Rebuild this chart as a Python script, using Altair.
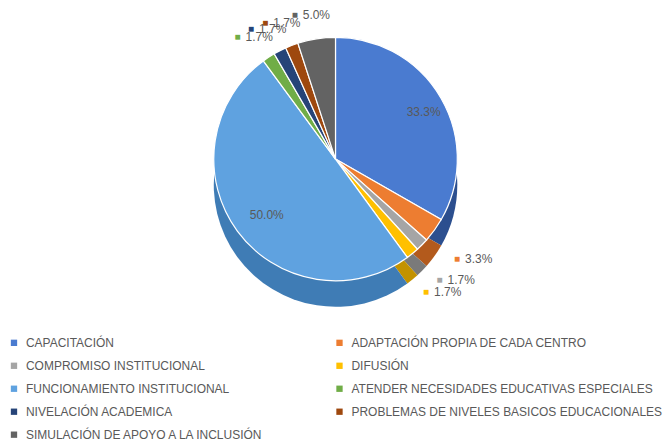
import altair as alt
import pandas as pd

categories = [
    "CAPACITACIÓN",
    "ADAPTACIÓN PROPIA DE CADA CENTRO",
    "COMPROMISO INSTITUCIONAL",
    "DIFUSIÓN",
    "FUNCIONAMIENTO INSTITUCIONAL",
    "ATENDER NECESIDADES EDUCATIVAS ESPECIALES",
    "NIVELACIÓN ACADEMICA",
    "PROBLEMAS DE NIVELES BASICOS EDUCACIONALES",
    "SIMULACIÓN DE APOYO A LA INCLUSIÓN",
]
values = [33.3, 3.3, 1.7, 1.7, 50.0, 1.7, 1.7, 1.7, 5.0]

top_colors = ["#4a7bd0", "#ed7d31", "#a5a5a5", "#ffc000", "#5fa2e0",
              "#70ad47", "#264478", "#9e480e", "#636363"]
side_colors = ["#2c4f8f", "#b35a1c", "#7a7a7a", "#c39200", "#3f7cb5",
               "#4e8130", "#15284a", "#6b2f08", "#3e3e3e"]

# legend fills column by column; reorder so rows read like the reference
legend_order = [categories[i] for i in [0, 2, 4, 6, 8, 1, 3, 5, 7]]

df = pd.DataFrame({"cat": categories, "value": values, "idx": list(range(len(values)))})

R = 122
DEPTH = 26
base = alt.Chart(df)

side = base.mark_arc(outerRadius=R, yOffset=DEPTH).encode(
    theta=alt.Theta("value:Q", stack=True),
    order=alt.Order("idx:Q"),
    color=alt.Color("cat:N", scale=alt.Scale(domain=categories, range=side_colors), legend=None),
)

top = base.mark_arc(outerRadius=R, stroke="white", strokeWidth=1.2).encode(
    theta=alt.Theta("value:Q", stack=True),
    order=alt.Order("idx:Q"),
    color=alt.Color(
        "cat:N",
        scale=alt.Scale(domain=categories, range=top_colors),
        legend=alt.Legend(
            title=None, orient="none", legendX=-3, legendY=315, columns=2,
            values=legend_order,
            columnPadding=69, rowPadding=11, symbolType="square", symbolSize=40,
            symbolStrokeWidth=0, labelFont="Liberation Sans", labelFontSize=12,
            labelColor="#595959", labelLimit=400, labelOffset=6,
        ),
    ),
)

lab = base.transform_window(
    cum="sum(value)", sort=[alt.SortField("idx")], frame=[None, 0]
).transform_joinaggregate(
    total="sum(value)"
).transform_calculate(
    mid="(datum.cum - datum.value / 2) / datum.total * 2 * PI",
    label="format(datum.value, '.1f') + '%'",
).transform_calculate(
    r=f"datum.value >= 20 ? {R - 28} : {R + 24} + (cos(datum.mid) < 0 ? {DEPTH} : 0)",
)

squares = lab.mark_text(text="■", fontSize=10, dx=-18).encode(
    theta=alt.Theta("mid:Q", scale=None),
    radius=alt.Radius("r:Q", scale=None),
    color=alt.Color("cat:N", scale=alt.Scale(domain=categories, range=top_colors), legend=None),
)

texts = lab.mark_text(font="Liberation Sans", fontSize=12, color="#595959", align="left", dx=-10).encode(
    theta=alt.Theta("mid:Q", scale=None),
    radius=alt.Radius("r:Q", scale=None),
    text="label:N",
)

chart = alt.layer(side, top, squares, texts).resolve_scale(color="independent").properties(
    width=650, height=274, padding=0
).configure_view(stroke=None)

chart.save("out.html", embed_options={"renderer": "svg", "actions": False})
